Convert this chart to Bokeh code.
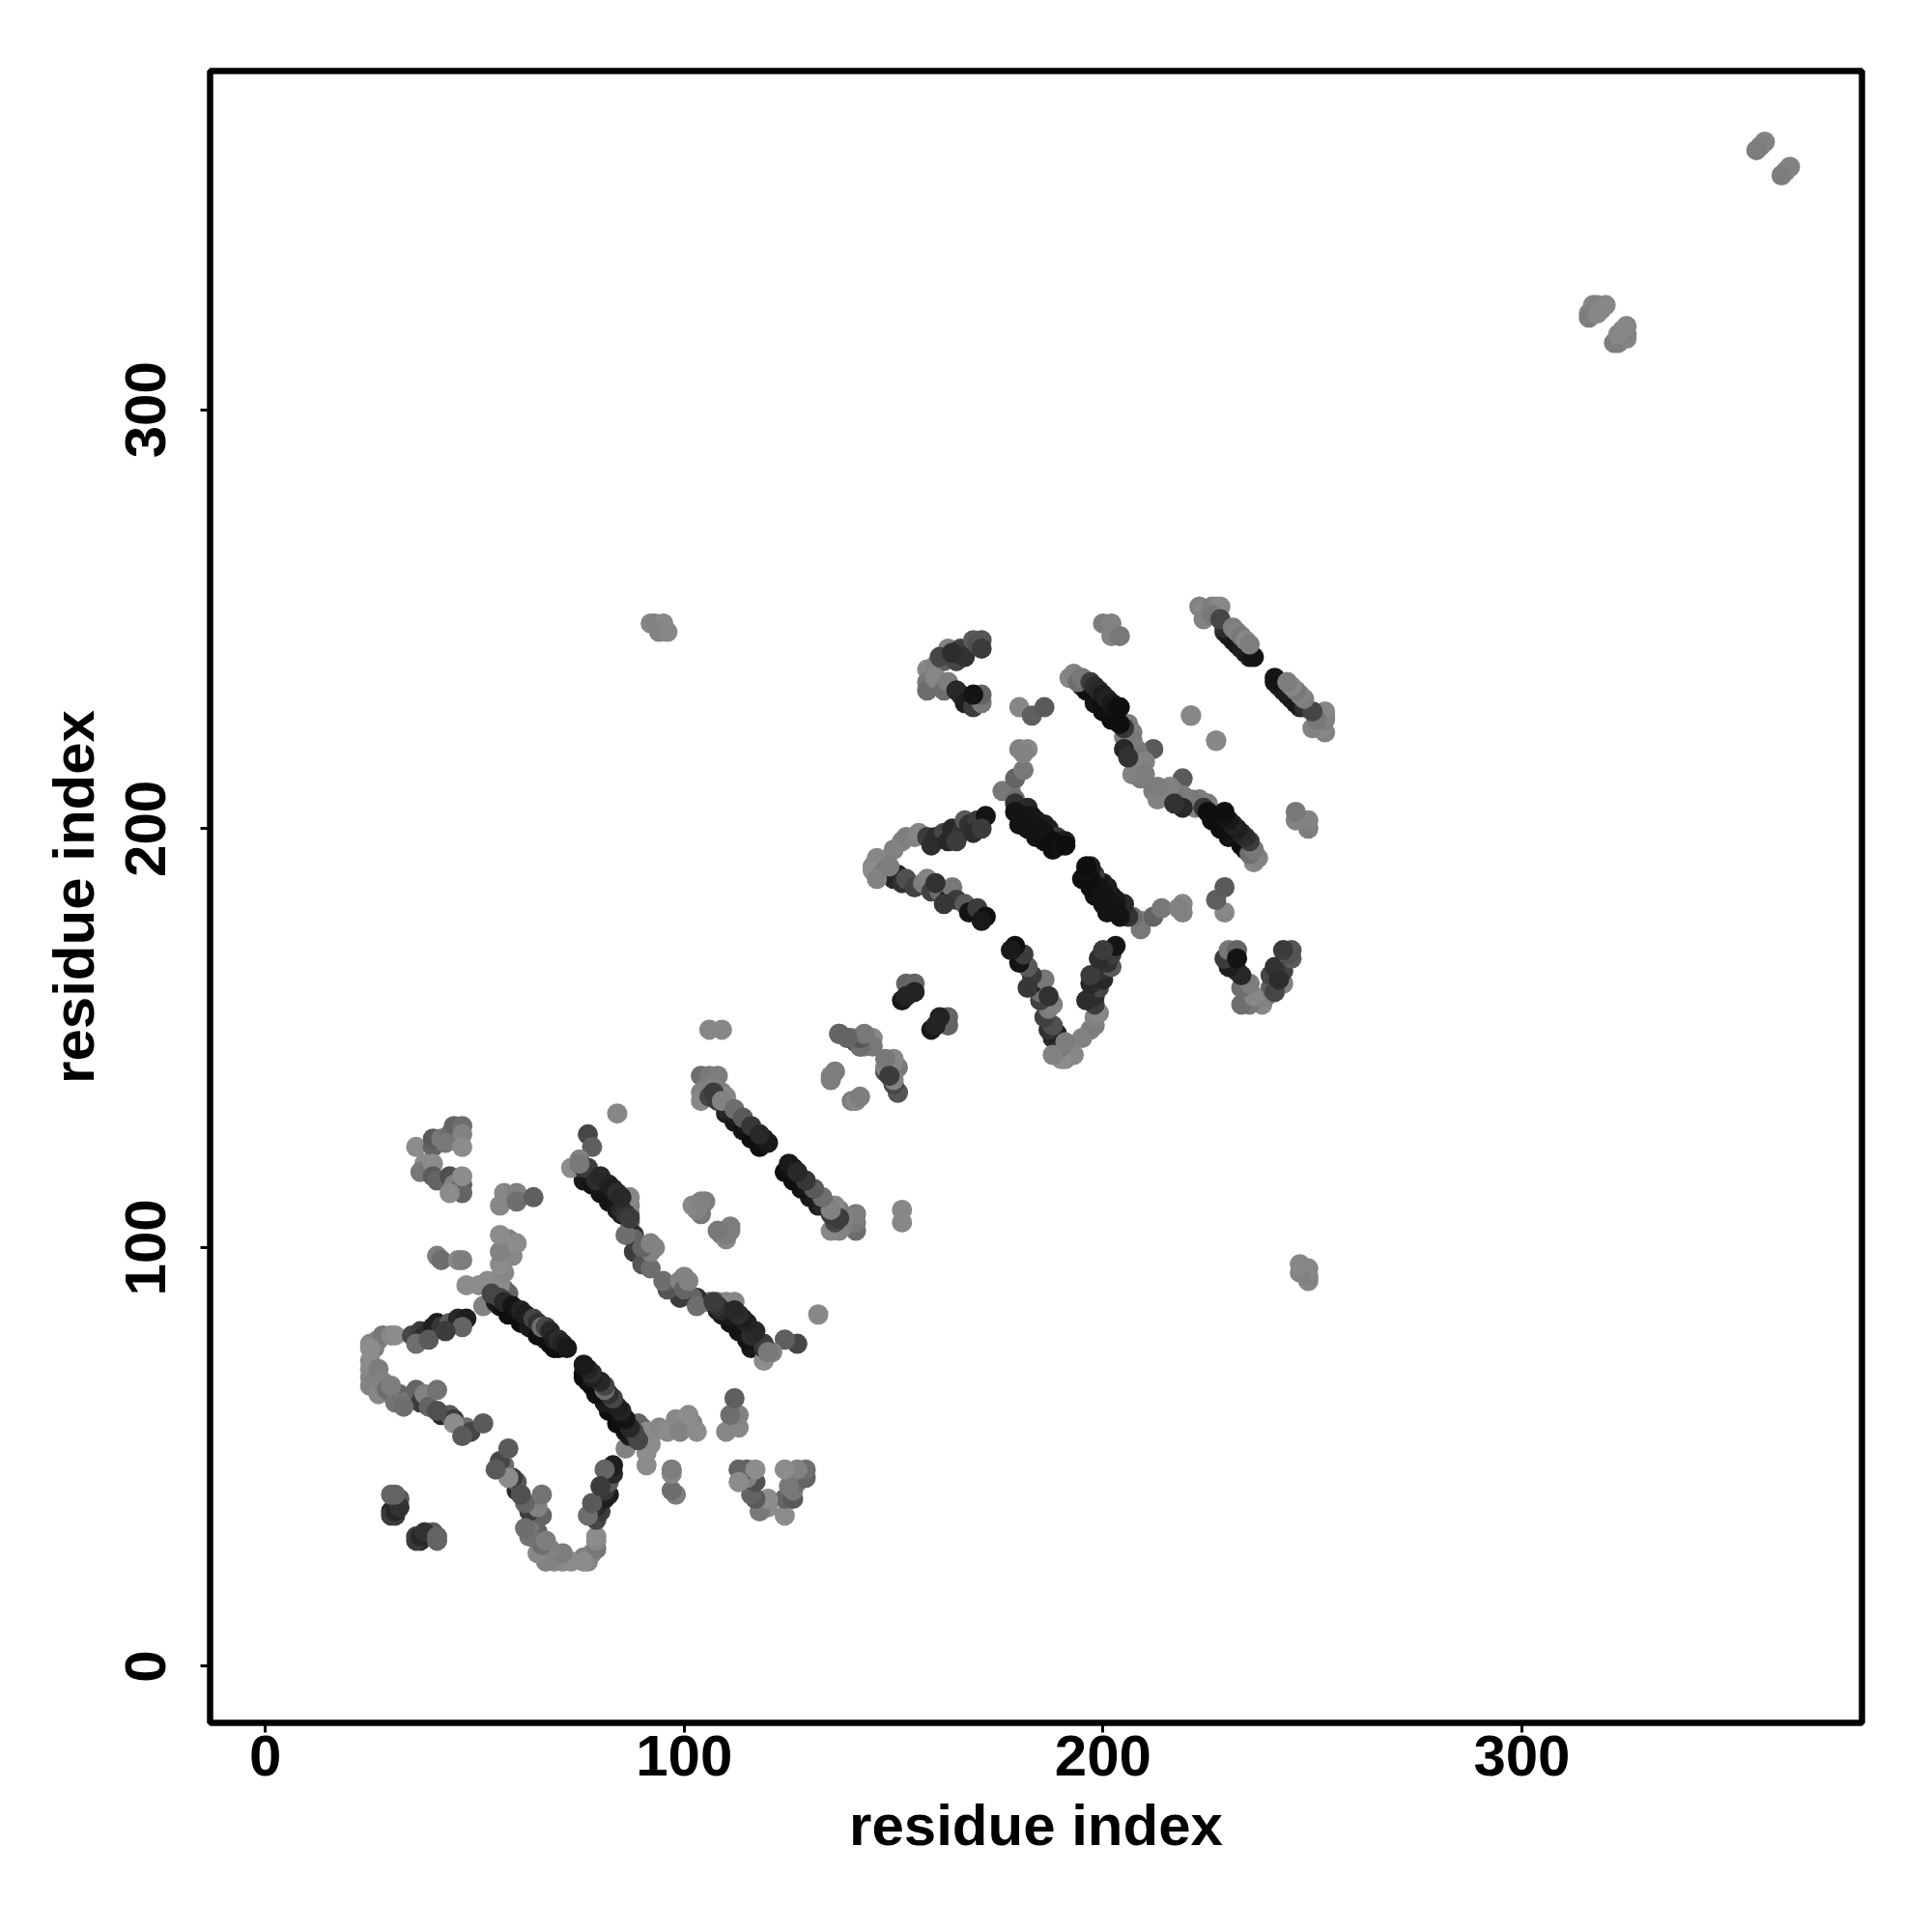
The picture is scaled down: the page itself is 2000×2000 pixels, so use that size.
from bokeh.embed import file_html
from bokeh.resources import INLINE
from bokeh.plotting import figure
from bokeh.models import Range1d, FixedTicker

# Contact pairs (i < j); the map is symmetric so each is shown at (i,j) and (j,i).
arm_a_i = [25,26,27,28,30,31,25,35,37,38,40,41,42,44,46,48,47,36,39,43]
arm_a_j = [77,76,78,79,79,79,76,79,80,79,81,82,81,82,83,83,81,77,78,80]
arm_a_s = [135,125,130,120,135,140,140,70,60,45,30,30,55,90,40,30,100,110,90,60]

arm_b_i = [25,25,26,27,28,29,30,31,32,33,36,37,38,39,41,42,44,45,47,48,49,52,25,25,27,30,41,45,47,27,28,29,31,30,33]
arm_b_j = [71,69,68,67,67,66,65,64,65,63,66,63,65,62,66,60,60,59,57,57,56,58,73,67,65,66,61,58,55,71,68,66,63,67,62]
arm_b_s = [140,135,130,120,80,50,70,85,100,120,100,60,130,100,115,40,90,60,95,110,70,90,140,130,135,100,80,140,90,125,130,110,115,125,110]

tiny_i = [31,32,30,31,31]
tiny_j = [40,40,37,37,36]
tiny_s = [110,90,40,40,60]

tiny2_i = [36,37,38,41,41]
tiny2_j = [30,31,32,31,30]
tiny2_s = [60,40,50,100,100]

block_a_i = [36,40,40,42,44,45,47,47,43,47,38,37,40,40,41,44,45,47,47,44,47]
block_a_j = [124,124,126,126,127,129,129,127,125,124,120,118,120,117,116,117,115,115,113,113,117]
block_a_s = [140,100,90,120,110,100,110,130,120,140,140,120,140,90,100,80,130,95,100,140,140]

small_a_i = [41,42,46,47,56,57,60,60,64]
small_a_j = [98,97,97,97,110,113,113,111,112]
small_a_s = [125,110,135,125,135,135,130,110,95]

line1_i = [55,56,57,58,59,61,62,63,65,66,67,68,69,70,54,56,57,59,60,61,62,64,65,66,67,68,69,70,71,72]
line1_j = [87,86,86,84,84,82,82,81,79,79,78,77,76,76,89,88,87,86,85,85,84,83,82,81,81,80,78,78,77,76]
line1_s = [30,25,15,15,15,15,15,25,15,15,15,15,15,15,70,70,40,20,20,35,30,70,50,110,70,40,30,45,35,25]

branch_a_i = [48,52,51,55,53,57,58,56,57,56,59,56,58,60,56]
branch_a_j = [91,86,91,92,92,90,89,91,94,96,98,99,102,101,103]
branch_a_s = [140,130,140,125,140,120,100,140,135,140,135,130,130,140,140]

under3_i = [76,78,80,82,84,85]
under3_j = [116,115,113,111,109,108]
under3_s = [25,20,20,20,25,30]

line3_i = [73,75,77,78,80,81,83,84,85,86,87,76,77,79,80,82,83,84,85,75]
line3_j = [119,121,118,117,115,114,112,111,109,108,107,119,119,116,117,115,114,113,112,120]
line3_s = [140,130,25,25,20,20,20,25,40,50,60,50,60,45,40,35,30,45,40,120]

branch_b_i = [87,87,87,87,88,88,88,90,92,92,93,90,92,87,85,86,77,78,84]
branch_b_j = [110,108,106,104,103,102,99,96,95,99,100,100,101,112,110,103,127,124,132]
branch_b_s = [130,135,120,100,45,100,60,85,110,130,130,100,130,135,130,110,70,95,135]

under5_i = [110,112,114,116,118]
under5_j = [132,130,128,126,124]
under5_s = [30,25,20,15,15]

line5_i = [106,107,108,110,111,112,113,114,115,116,117,118,119,119,120,109,112,114,116,118]
line5_j = [136,137,135,133,133,132,131,130,129,128,127,127,125,126,125,135,133,131,129,127]
line5_s = [70,60,60,40,40,35,30,20,25,15,15,20,15,25,25,130,110,90,55,40]

top5_i = [104,106,108,105,104,107,109,110,106,109,104,106]
top5_j = [141,141,141,138,137,138,137,136,152,152,135,136]
top5_s = [110,120,125,125,130,130,125,135,135,135,135,130]

near_i = [103,105,104,109,110,111,135,136,137,139,140,142,144,143,145,145,141,148,150,151,150,151,140]
near_j = [110,111,108,103,102,104,141,142,151,150,150,148,150,148,150,148,149,142,142,143,139,137,135]
near_s = [125,125,120,130,135,130,135,125,85,70,130,75,130,130,135,120,60,110,85,120,100,100,125]

hv_i = [92,93,95,94,96,153,155,152,153,155]
hv_j = [249,249,249,247,247,163,163,159,160,161]
hv_s = [135,130,135,130,135,100,100,25,35,35]

curve_a_i = [158,160,162,163,165,166,167,169,170,171,171,158,158,160,162,163,165,166,167,169,171,171,169,161,164]
curve_a_j = [238,239,240,243,240,243,241,245,244,245,243,235,233,236,233,235,233,232,230,229,230,232,232,241,242]
curve_a_s = [135,130,95,130,70,65,50,90,80,85,60,120,110,135,110,125,40,40,30,60,120,100,20,70,45]

iso_a_i = [180,183,186,200,202,202,204,221,227,212]
iso_a_j = [229,227,229,249,249,246,246,227,221,219]
iso_a_s = [135,95,90,125,130,130,120,135,135,90]

under_v_i = [180,182,184,186,188]
under_v_j = [201,200,198,197,195]
under_v_s = [20,20,20,15,15]

vert_i = [178,176,179,179,181,180,182,181,179,180,182,183,184,186,187,189,190,191,179,181,183,185,186,188,190,191]
vert_j = [209,209,207,212,214,219,219,218,206,204,205,203,202,201,200,198,197,197,204,203,201,200,199,197,196,196]
vert_s = [130,120,110,100,120,130,135,130,50,30,40,25,25,30,30,60,40,30,20,20,20,20,20,15,20,15]

under7_i = [198,200,202,204]
under7_j = [230,228,226,225]
under7_s = [20,15,15,15]

line7_i = [195,196,197,199,200,201,202,192,193,194,195,197,198,199,200,201,202,203,204]
line7_j = [234,233,233,231,230,229,228,236,237,235,236,235,234,233,232,231,230,229,229]
line7_s = [30,15,15,20,15,15,15,135,130,110,120,60,45,40,30,35,25,20,15]

hook_i = [206,205,207,207,208,209,210,208,209,207,210,205,206,205]
hook_j = [225,222,223,221,219,217,216,214,212,213,213,219,217,224]
hook_s = [125,130,125,120,125,120,130,130,125,130,125,40,50,55]

line9_i = [229,230,231,232,233,234,235,236,229,223,224,226,227,228,224,226,228,231,232,233,234,235]
line9_j = [247,246,245,244,243,242,241,241,248,253,252,253,253,253,250,251,250,248,247,246,245,244]
line9_s = [40,25,25,25,30,30,25,20,45,130,135,125,130,135,130,120,70,125,130,120,135,125]

curve_b_i = [145,146,148,150,152,153,155,156,158,160,162,164,166,167,168,170,172,159,163,165,169,171,145,147,148,150,151,152,153,155,157,158,159,161,163,164,165,167,168,170,172,171,160,162,146,149]
curve_b_j = [191,193,192,195,197,198,198,199,198,198,199,200,199,202,201,202,203,196,197,197,199,200,190,189,190,188,189,187,188,186,187,188,185,185,183,186,183,182,180,181,179,178,187,182,188,191]
curve_b_s = [135,135,135,130,130,125,130,135,60,45,70,40,50,90,50,60,20,45,40,60,45,60,140,130,120,40,35,50,80,65,125,130,65,110,30,120,60,90,20,60,15,25,50,55,130,125]

far_i = [316,317,318,319,320,316,318,357,358,356]
far_j = [323,325,325,324,325,322,323,363,364,362]
far_s = [130,135,130,130,135,125,135,130,130,125]

groups = [
    (arm_a_i, arm_a_j, arm_a_s), (arm_b_i, arm_b_j, arm_b_s), (tiny_i, tiny_j, tiny_s),
    (tiny2_i, tiny2_j, tiny2_s), (block_a_i, block_a_j, block_a_s), (small_a_i, small_a_j, small_a_s),
    (branch_a_i, branch_a_j, branch_a_s), (line1_i, line1_j, line1_s), (branch_b_i, branch_b_j, branch_b_s),
    (under3_i, under3_j, under3_s), (line3_i, line3_j, line3_s), (top5_i, top5_j, top5_s),
    (under5_i, under5_j, under5_s), (line5_i, line5_j, line5_s),
    (near_i, near_j, near_s), (hv_i, hv_j, hv_s), (curve_a_i, curve_a_j, curve_a_s),
    (iso_a_i, iso_a_j, iso_a_s), (hook_i, hook_j, hook_s), (under_v_i, under_v_j, under_v_s), (vert_i, vert_j, vert_s),
    (under7_i, under7_j, under7_s), (line7_i, line7_j, line7_s), (line9_i, line9_j, line9_s), (curve_b_i, curve_b_j, curve_b_s),
    (far_i, far_j, far_s),
]

xs, ys, cs = [], [], []
for gi, gj, gs in groups:
    hexes = ["#%02x%02x%02x" % (s, s, s) for s in gs]
    xs += list(gi) + list(gj)
    ys += list(gj) + list(gi)
    cs += hexes + hexes

p = figure(width=1984, height=1984, output_backend="svg", toolbar_location=None,
           x_range=Range1d(-13.2, 381.2), y_range=Range1d(-13.5, 380.9),
           min_border_left=217, min_border_right=57, min_border_top=73, min_border_bottom=201,
           background_fill_color="white")
p.scatter(xs, ys, size=21, fill_color=cs, line_color=None, marker="circle")

p.grid.visible = False
p.outline_line_color = "black"
p.outline_line_width = 6.5

for ax in (p.xaxis[0], p.yaxis[0]):
    ax.ticker = FixedTicker(ticks=[0, 100, 200, 300])
    ax.axis_label = "residue index"
    ax.axis_line_color = None
    ax.major_tick_line_color = "black"
    ax.major_tick_line_width = 3
    ax.major_tick_out = 10
    ax.major_tick_in = 0
    ax.minor_tick_line_color = None
    ax.major_label_text_font = "Liberation Sans"
    ax.major_label_text_font_style = "bold"
    ax.major_label_text_font_size = "60px"
    ax.major_label_text_color = "black"
    ax.axis_label_text_font = "Liberation Sans"
    ax.axis_label_text_font_style = "bold"
    ax.axis_label_text_font_size = "60px"
    ax.axis_label_text_color = "black"

p.xaxis[0].major_label_standoff = 3
p.xaxis[0].axis_label_standoff = 15
p.yaxis[0].major_label_orientation = "vertical"
p.yaxis[0].major_label_standoff = 36
p.yaxis[0].axis_label_standoff = 18

open("out.html", "w").write(file_html(p, INLINE))
